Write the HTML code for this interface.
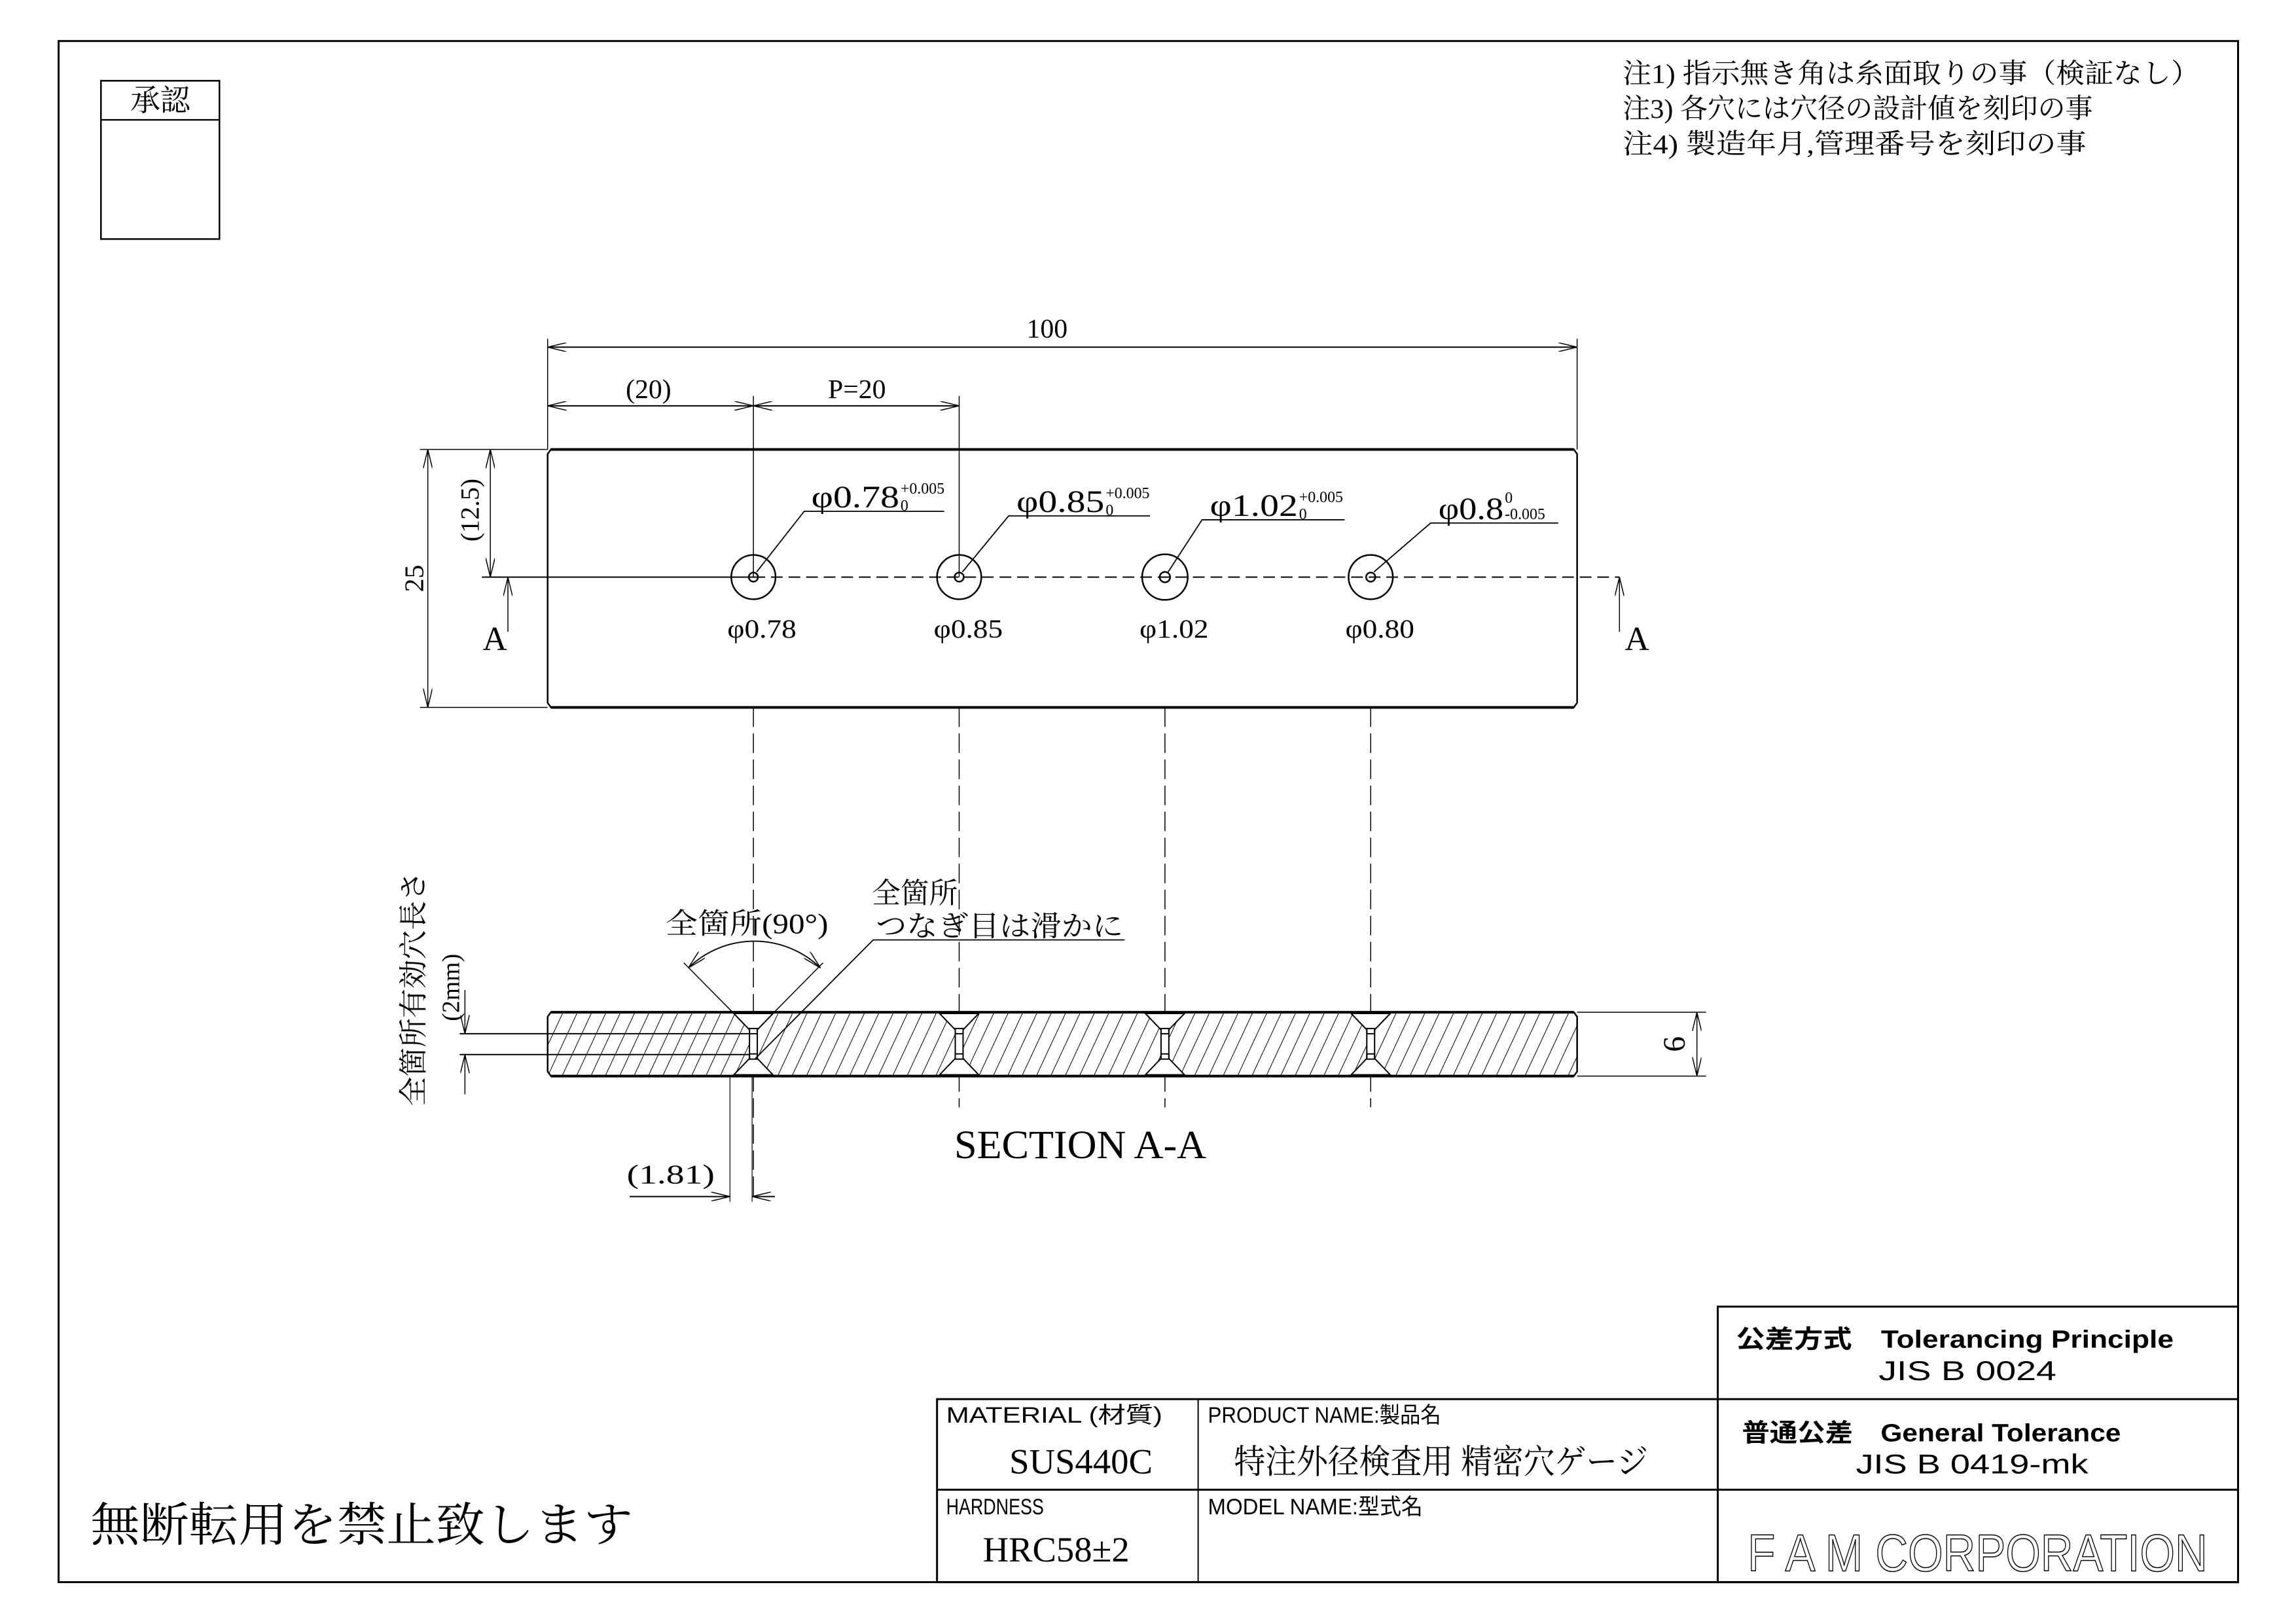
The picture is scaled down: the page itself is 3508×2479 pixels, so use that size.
<!DOCTYPE html>
<html><head><meta charset="utf-8"><style>
html,body{margin:0;padding:0;background:#fff}
svg{display:block}
text{font-family:"Liberation Serif","Noto Serif CJK SC","Noto Sans CJK JP",serif;fill:#000}
.s{font-family:"Liberation Sans","Noto Sans CJK JP",sans-serif}
</style></head><body>
<svg width="3508" height="2479" viewBox="0 0 3508 2479" xmlns="http://www.w3.org/2000/svg">
<defs>
<pattern id="h" patternUnits="userSpaceOnUse" width="20" height="20" patternTransform="rotate(25)">
<line x1="0" y1="0" x2="0" y2="20" stroke="#000" stroke-width="2"/>
</pattern>
<marker id="a" markerWidth="30" markerHeight="14" refX="29" refY="7" orient="auto-start-reverse" markerUnits="userSpaceOnUse">
<path d="M0,0 L29,7 L0,14" fill="none" stroke="#000" stroke-width="1.5"/>
</marker>
</defs>
<g transform="scale(0.9949)">
<rect x="90" y="63" width="3347" height="2366" fill="none" stroke="#000" stroke-width="3"/>
<rect x="155" y="124" width="182" height="243" fill="none" stroke="#000" stroke-width="2.5"/>
<line x1="155" y1="184" x2="337" y2="184" stroke="#000" stroke-width="2.5"/>
<text x="246" y="170" font-size="46" text-anchor="middle">承認</text>
<text x="2492" y="127" font-size="42" textLength="886" lengthAdjust="spacingAndGlyphs">注1) 指示無き角は糸面取りの事（検証なし）</text>
<text x="2492" y="181" font-size="42" textLength="722" lengthAdjust="spacingAndGlyphs">注3) 各穴には穴径の設計値を刻印の事</text>
<text x="2492" y="235" font-size="42" textLength="712" lengthAdjust="spacingAndGlyphs">注4) 製造年月,管理番号を刻印の事</text>

<g stroke="#000" fill="none">
<line x1="841" y1="520" x2="841" y2="690" stroke-width="1.5"/>
<line x1="2422" y1="520" x2="2422" y2="690" stroke-width="1.5"/>
<line x1="841" y1="533" x2="2422" y2="533" stroke-width="2" marker-start="url(#a)" marker-end="url(#a)"/>
<line x1="1157" y1="608" x2="1157" y2="886" stroke-width="1.5"/>
<line x1="1473" y1="608" x2="1473" y2="886" stroke-width="1.5"/>
<line x1="841" y1="623" x2="1157" y2="623" stroke-width="2" marker-start="url(#a)" marker-end="url(#a)"/>
<line x1="1157" y1="623" x2="1473" y2="623" stroke-width="2" marker-start="url(#a)" marker-end="url(#a)"/>
<path d="M846,690 L2417,690 L2422,697 L2422,1079 L2417,1086 L846,1086 L841,1079 L841,697 Z" stroke-width="2.5"/>
<line x1="846" y1="690" x2="2417" y2="690" stroke-width="4"/>
<line x1="846" y1="1086" x2="2417" y2="1086" stroke-width="4"/>
<line x1="645" y1="690" x2="841" y2="690" stroke-width="1.5"/>
<line x1="645" y1="1086" x2="841" y2="1086" stroke-width="1.5"/>
<line x1="657" y1="690" x2="657" y2="1086" stroke-width="1.5" marker-start="url(#a)" marker-end="url(#a)"/>
<line x1="753" y1="690" x2="753" y2="886" stroke-width="1.5" marker-start="url(#a)" marker-end="url(#a)"/>
<line x1="740" y1="886" x2="1157" y2="886" stroke-width="2"/>
<line x1="1157" y1="886" x2="2487" y2="886" stroke-width="2" stroke-dasharray="18,9"/>
<line x1="780" y1="970" x2="780" y2="886" stroke-width="1.5" marker-end="url(#a)"/>
<line x1="2487" y1="970" x2="2487" y2="886" stroke-width="1.5" marker-end="url(#a)"/>
<g stroke-width="2.5">
<circle cx="1157" cy="886" r="34"/><circle cx="1157" cy="886" r="7"/>
<circle cx="1473" cy="886" r="34"/><circle cx="1473" cy="886" r="7"/>
<circle cx="1789" cy="886" r="35"/><circle cx="1789" cy="886" r="8"/>
<circle cx="2105" cy="886" r="34"/><circle cx="2105" cy="886" r="7"/>
</g>
<g stroke-width="1.8">
<polyline points="1450,785 1235,785 1162,878"/>
<polyline points="1766,792 1549,792 1478,878"/>
<polyline points="2065,798 1846,798 1794,878"/>
<polyline points="2393,803 2197,803 2110,878"/>
</g>
<g stroke-width="1.5" stroke-dasharray="30,10">
<line x1="1157" y1="1086" x2="1157" y2="1845"/>
<line x1="1473" y1="1086" x2="1473" y2="1700"/>
<line x1="1789" y1="1086" x2="1789" y2="1700"/>
<line x1="2105" y1="1086" x2="2105" y2="1700"/>
</g>
</g>

<text x="1608" y="518" font-size="42" text-anchor="middle">100</text>
<text x="996" y="611" font-size="42" text-anchor="middle">(20)</text>
<text x="1316" y="611" font-size="42" text-anchor="middle">P=20</text>
<text transform="translate(650,888) rotate(-90)" font-size="42" text-anchor="middle">25</text>
<text transform="translate(735,783) rotate(-90)" font-size="40" text-anchor="middle">(12.5)</text>
<text x="760" y="998" font-size="52" text-anchor="middle">A</text>
<text x="2514" y="998" font-size="52" text-anchor="middle">A</text>
<text x="1117" y="979" font-size="40" textLength="106" lengthAdjust="spacingAndGlyphs">φ0.78</text>
<text x="1434" y="979" font-size="40" textLength="106" lengthAdjust="spacingAndGlyphs">φ0.85</text>
<text x="1750" y="979" font-size="40" textLength="106" lengthAdjust="spacingAndGlyphs">φ1.02</text>
<text x="2066" y="979" font-size="40" textLength="106" lengthAdjust="spacingAndGlyphs">φ0.80</text>
<text x="1246" y="779" font-size="48" textLength="135" lengthAdjust="spacingAndGlyphs">φ0.78</text>
<text x="1383" y="758" font-size="24">+0.005</text><text x="1383" y="784" font-size="24">0</text>
<text x="1561" y="786" font-size="48" textLength="135" lengthAdjust="spacingAndGlyphs">φ0.85</text>
<text x="1698" y="765" font-size="24">+0.005</text><text x="1698" y="791" font-size="24">0</text>
<text x="1858" y="792" font-size="48" textLength="135" lengthAdjust="spacingAndGlyphs">φ1.02</text>
<text x="1995" y="771" font-size="24">+0.005</text><text x="1995" y="797" font-size="24">0</text>
<text x="2209" y="797" font-size="48" textLength="100" lengthAdjust="spacingAndGlyphs">φ0.8</text>
<text x="2311" y="772" font-size="24">0</text><text x="2311" y="797" font-size="24">-0.005</text>

<path d="M846,1554 L2417,1554 L2422,1561 L2422,1645 L2417,1652 L846,1652 L841,1645 L841,1561 Z" fill="url(#h)" stroke="#000" stroke-width="2.5"/>
<line x1="846" y1="1554" x2="2417" y2="1554" stroke="#000" stroke-width="4"/>
<line x1="846" y1="1652" x2="2417" y2="1652" stroke="#000" stroke-width="4"/>
<g stroke="#000" stroke-width="2" fill="#fff">
<polygon points="1127,1556 1187,1556 1163,1581 1163,1625 1187,1650 1127,1650 1151,1625 1151,1581"/>
<polygon points="1443,1556 1503,1556 1479,1581 1479,1625 1503,1650 1443,1650 1467,1625 1467,1581"/>
<polygon points="1759,1556 1819,1556 1795,1581 1795,1625 1819,1650 1759,1650 1783,1625 1783,1581"/>
<polygon points="2075,1556 2135,1556 2111,1581 2111,1625 2135,1650 2075,1650 2099,1625 2099,1581"/>
</g>
<g stroke="#000" stroke-width="2" fill="none">
<rect x="1151" y="1579" width="12" height="8"/><rect x="1151" y="1618" width="12" height="8"/>
<rect x="1467" y="1579" width="12" height="8"/><rect x="1467" y="1618" width="12" height="8"/>
<rect x="1783" y="1579" width="12" height="8"/><rect x="1783" y="1618" width="12" height="8"/>
<rect x="2099" y="1579" width="12" height="8"/><rect x="2099" y="1618" width="12" height="8"/>
</g>
<g stroke="#000" fill="none">
<line x1="706" y1="1587" x2="1151" y2="1587" stroke-width="2"/>
<line x1="706" y1="1619" x2="1151" y2="1619" stroke-width="2"/>
<line x1="714" y1="1520" x2="714" y2="1587" stroke-width="1.5" marker-end="url(#a)"/>
<line x1="714" y1="1680" x2="714" y2="1619" stroke-width="1.5" marker-end="url(#a)"/>
<line x1="1127" y1="1556" x2="1050" y2="1478" stroke-width="1.5"/>
<line x1="1187" y1="1556" x2="1264" y2="1478" stroke-width="1.5"/>
<path d="M1057,1486 A146,146 0 0 1 1260,1486" stroke-width="1.8" marker-start="url(#a)" marker-end="url(#a)"/>
<polyline points="1160,1625 1341,1443 1727,1443" stroke-width="1.8"/>
<line x1="2422" y1="1554" x2="2620" y2="1554" stroke-width="1.5"/>
<line x1="2422" y1="1652" x2="2620" y2="1652" stroke-width="1.5"/>
<line x1="2606" y1="1554" x2="2606" y2="1652" stroke-width="1.5" marker-start="url(#a)" marker-end="url(#a)"/>
<line x1="1121" y1="1652" x2="1121" y2="1845" stroke-width="1.2"/>
<line x1="1155" y1="1652" x2="1155" y2="1845" stroke-width="1.2"/>
<line x1="967" y1="1837" x2="1121" y2="1837" stroke-width="2" marker-end="url(#a)"/>
<line x1="1190" y1="1837" x2="1155" y2="1837" stroke-width="2" marker-end="url(#a)"/>
</g>
<text x="1147" y="1433" font-size="44" text-anchor="middle" textLength="250" lengthAdjust="spacingAndGlyphs">全箇所(90°)</text>
<text x="1339" y="1386" font-size="44">全箇所</text>
<text x="1345" y="1437" font-size="44" textLength="380" lengthAdjust="spacingAndGlyphs">つなぎ目は滑かに</text>
<text transform="translate(650,1518) rotate(-90)" font-size="44" text-anchor="middle" textLength="360" lengthAdjust="spacingAndGlyphs">全箇所有効穴長さ</text>
<text transform="translate(705,1516) rotate(-90)" font-size="38" text-anchor="middle">(2mm)</text>
<text transform="translate(2587,1603) rotate(-90)" font-size="48" text-anchor="middle">6</text>
<text x="1659" y="1778" font-size="62" text-anchor="middle" textLength="387" lengthAdjust="spacingAndGlyphs">SECTION A-A</text>
<text x="1030" y="1817" font-size="42" text-anchor="middle" textLength="135" lengthAdjust="spacingAndGlyphs">(1.81)</text>

<g stroke="#000" fill="none" stroke-width="3">
<rect x="2638" y="2006" width="799" height="423"/>
<rect x="1439" y="2148" width="1998" height="281"/>
<line x1="1439" y1="2287" x2="3437" y2="2287"/>
<line x1="1840" y1="2148" x2="1840" y2="2429" stroke-width="2"/>
</g>
<text class="s" x="2666" y="2069" font-size="38" font-weight="bold" textLength="672" lengthAdjust="spacingAndGlyphs">公差方式　Tolerancing Principle</text>
<text class="s" x="2885" y="2119" font-size="42" fill="#333" textLength="273" lengthAdjust="spacingAndGlyphs">JIS B 0024</text>
<text class="s" x="2675" y="2213" font-size="38" font-weight="bold" textLength="582" lengthAdjust="spacingAndGlyphs">普通公差　General Tolerance</text>
<text class="s" x="2850" y="2262" font-size="42" fill="#333" textLength="357" lengthAdjust="spacingAndGlyphs">JIS B 0419-mk</text>
<text class="s" x="2684" y="2412" font-size="80" style="fill:none;stroke:#000;stroke-width:1.5" textLength="706" lengthAdjust="spacingAndGlyphs">F A M CORPORATION</text>
<text class="s" x="1453" y="2184" font-size="34" textLength="332" lengthAdjust="spacingAndGlyphs">MATERIAL (材質)</text>
<text x="1660" y="2262" font-size="54" text-anchor="middle" textLength="220" lengthAdjust="spacingAndGlyphs">SUS440C</text>
<text class="s" x="1855" y="2184" font-size="34" textLength="358" lengthAdjust="spacingAndGlyphs">PRODUCT NAME:製品名</text>
<text x="1895" y="2262" font-size="52" textLength="636" lengthAdjust="spacingAndGlyphs">特注外径検査用 精密穴ゲージ</text>
<text class="s" x="1453" y="2325" font-size="34" textLength="150" lengthAdjust="spacingAndGlyphs">HARDNESS</text>
<text x="1622" y="2397" font-size="54" text-anchor="middle" textLength="225" lengthAdjust="spacingAndGlyphs">HRC58±2</text>
<text class="s" x="1855" y="2325" font-size="34" textLength="330" lengthAdjust="spacingAndGlyphs">MODEL NAME:型式名</text>
<text x="139" y="2366" font-size="72" textLength="833" lengthAdjust="spacingAndGlyphs">無断転用を禁止致します</text>
</g>
</svg>
</body></html>
